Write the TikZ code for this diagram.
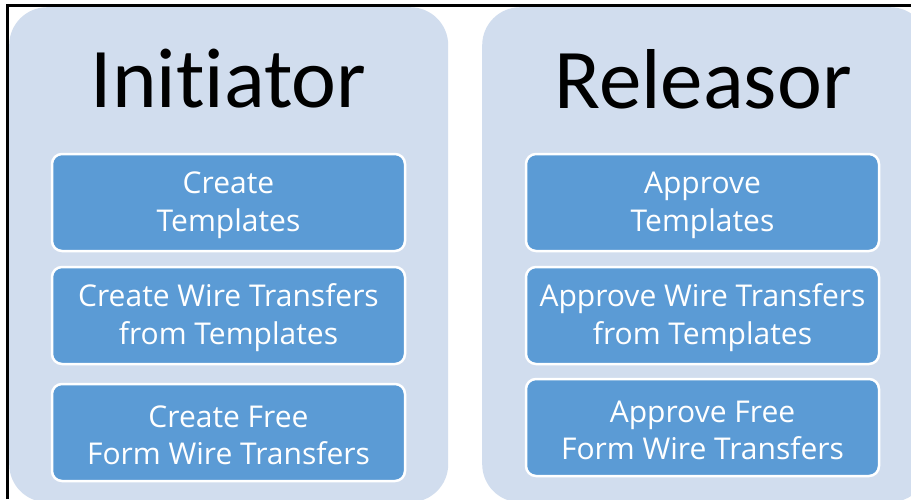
\documentclass[tikz,border=0pt]{standalone}
\usepackage{fontspec}
\setmainfont{Carlito}[Ligatures={NoCommon}]
\newfontfamily\boxfont{Open Sans}
\newcommand\mytopstrut{\rule{0pt}{27pt}}
\definecolor{panelc}{RGB}{209,221,238}
\definecolor{boxc}{RGB}{91,155,213}
\tikzset{
  panel/.style={fill=panelc, draw=none, rounded corners=38pt, inner sep=0pt, anchor=north west},
  stepbox/.style={fill=boxc, draw=white, line width=2.5pt, rounded corners=10pt,
    minimum width=353pt, minimum height=97pt, inner sep=0pt, align=center,
    text=white, font=\boxfont\fontsize{30}{37.5}\selectfont},
  title/.style={font=\fontsize{85}{92}\selectfont, text=black, inner sep=0pt}
}
\begin{document}
\begin{tikzpicture}[x=1pt,y=-1pt]
\useasboundingbox (0,0) rectangle (911,499);
\clip (0,0) rectangle (911,499);
\fill[white] (0,0) rectangle (911,499);
\node[panel, minimum width=439pt, minimum height=495pt] (lp) at (9,7) {};
\node[panel, minimum width=446pt, minimum height=495pt] (rp) at (482,7) {};
\node[title] (ti) at (228.5,79) {Initiator};
\node[title] (tr) at (703,79) {Releasor};
\node[stepbox] (l1) at (228.5,202.5) {\mytopstrut Create\\Templates};
\node[stepbox] (l2) at (228.5,315.5) {\mytopstrut Create Wire Transfers\\from Templates};
\node[stepbox] (l3) at (228.5,432.5) {\mytopstrut Create Free\\Form Wire Transfers};
\node[stepbox] (r1) at (702.5,202.5) {\mytopstrut Approve\\Templates};
\node[stepbox] (r2) at (702.5,315.5) {\mytopstrut Approve Wire Transfers\\from Templates};
\node[stepbox] (r3) at (702.5,427.5) {\mytopstrut Approve Free\\Form Wire Transfers};
\coordinate (bl) at (7.5,499);
\coordinate (tl) at (7.5,5.5);
\coordinate (tr2) at (911,5.5);
\draw[line width=3pt] (bl) -- (tl) -- (tr2);
\end{tikzpicture}
\end{document}
